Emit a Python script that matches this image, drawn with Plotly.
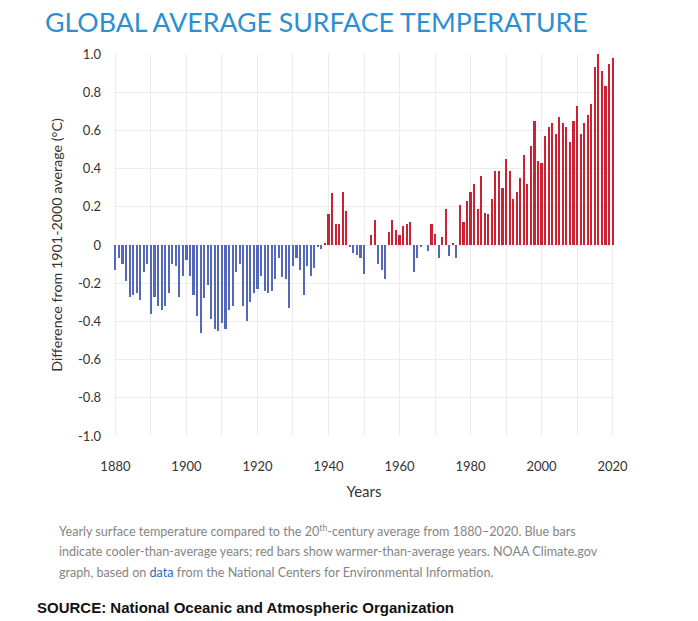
"""Global average surface temperature anomaly bar chart."""

import plotly.graph_objects as go

# Yearly anomalies vs the 1901-2000 average (deg C)
years = list(range(1880, 2021))
anomalies = [
    -0.13, -0.07, -0.10, -0.19, -0.27, -0.26, -0.25, -0.29, -0.14, -0.10,  # 1880s
    -0.36, -0.27, -0.32, -0.34, -0.32, -0.25, -0.10, -0.11, -0.27, -0.16,  # 1890s
    -0.08, -0.16, -0.26, -0.37, -0.46, -0.28, -0.21, -0.39, -0.44, -0.45,  # 1900s
    -0.41, -0.44, -0.34, -0.32, -0.14, -0.10, -0.32, -0.40, -0.30, -0.25,  # 1910s
    -0.23, -0.16, -0.24, -0.25, -0.24, -0.18, -0.07, -0.17, -0.18, -0.33,  # 1920s
    -0.11, -0.07, -0.13, -0.26, -0.11, -0.16, -0.12, -0.01, -0.02, 0.01,   # 1930s
    0.16, 0.27, 0.11, 0.11, 0.28, 0.18, -0.01, -0.04, -0.05, -0.07,        # 1940s
    -0.15, 0.00, 0.05, 0.13, -0.10, -0.13, -0.18, 0.07, 0.13, 0.08,        # 1950s
    0.05, 0.10, 0.11, 0.12, -0.14, -0.07, -0.01, 0.00, -0.03, 0.11,        # 1960s
    0.06, -0.07, 0.04, 0.19, -0.06, 0.01, -0.07, 0.21, 0.12, 0.23,         # 1970s
    0.28, 0.32, 0.19, 0.36, 0.17, 0.16, 0.24, 0.39, 0.39, 0.30,            # 1980s
    0.45, 0.39, 0.24, 0.28, 0.35, 0.47, 0.32, 0.52, 0.65, 0.44,            # 1990s
    0.43, 0.57, 0.62, 0.64, 0.58, 0.67, 0.64, 0.62, 0.54, 0.65,            # 2000s
    0.73, 0.58, 0.64, 0.68, 0.74, 0.93, 1.00, 0.91, 0.83, 0.95,            # 2010s
    0.98,                                                                  # 2020
]

y_tickvals = [1.0, 0.8, 0.6, 0.4, 0.2, 0, -0.2, -0.4, -0.6, -0.8, -1.0]
y_ticktext = ["1.0", "0.8", "0.6", "0.4", "0.2", "0", "-0.2", "-0.4", "-0.6", "-0.8", "-1.0"]
x_tickvals = [1880, 1900, 1920, 1940, 1960, 1980, 2000, 2020]

caption_lines = [
    "Yearly surface temperature compared to the 20<sup>th</sup>-century average "
    "from 1880–2020. Blue bars",
    "indicate cooler-than-average years; red bars show warmer-than-average years. "
    "NOAA Climate.gov",
    "graph, based on <span style='color:#1a6fbf'>data</span> from the National "
    "Centers for Environmental Information.",
]

# Blue for cooler-than-average years, red for warmer ones
bar_colors = ["#cc2233" if v > 0 else "#5468b9" for v in anomalies]

fig = go.Figure()
fig.add_trace(
    go.Bar(
        x=years,
        y=anomalies,
        width=0.6,
        marker_color=bar_colors,
        marker_line_width=0,
        hovertemplate="%{x}: %{y:.2f} °C<extra></extra>",
    )
)

font_main = "Lato, 'Open Sans', sans-serif"

# The page adds an 8px body margin, so the figure is 8px smaller and shifted
fig.update_layout(
    width=690,
    height=613,
    margin=dict(l=106, r=84, t=46, b=185),
    paper_bgcolor="white",
    plot_bgcolor="white",
    showlegend=False,
    bargap=0,
    font=dict(family=font_main, size=13, color="#333333"),
)

fig.update_xaxes(
    range=[1879.6, 2020.4],
    tickvals=x_tickvals,
    tickfont=dict(size=13, color="#333333"),
    showgrid=True,
    gridcolor="#ececec",
    minor=dict(dtick=10, tick0=1880, showgrid=True, gridcolor="#ececec"),
    zeroline=False,
    showline=False,
    ticks="",
    ticklabelstandoff=21,
    title=dict(text="Years", font=dict(size=15, color="#333333"), standoff=13),
)

fig.update_yaxes(
    range=[-1.0, 1.0],
    tickvals=y_tickvals,
    ticktext=y_ticktext,
    tickfont=dict(size=13, color="#333333"),
    showgrid=True,
    gridcolor="#ececec",
    zeroline=False,
    showline=False,
    ticks="",
    ticklabelstandoff=12,
    title=dict(
        text="Difference from 1901-2000 average (°C)",
        font=dict(size=14.3, color="#333333"),
        standoff=12,
    ),
)

# Plot area spans 114..614 px across and 54..436 px down on the screen
def px_x(px):
    return (px - 114) / 500


def px_y(py):
    return (436 - py) / 382


# Title
fig.add_annotation(
    text="GLOBAL AVERAGE SURFACE TEMPERATURE",
    xref="paper", yref="paper",
    x=px_x(43), y=px_y(22),
    xanchor="left", yanchor="middle",
    showarrow=False,
    font=dict(family=font_main, size=26.7, color="#2b8fd4"),
)

# Caption under the chart, one annotation per line for the wider spacing
for i, line in enumerate(caption_lines):
    fig.add_annotation(
        text=line,
        xref="paper", yref="paper",
        x=px_x(57), y=px_y(530 + 21 * i),
        xanchor="left", yanchor="middle",
        align="left",
        showarrow=False,
        font=dict(family=font_main, size=12.6, color="#858585"),
    )

# Source line
fig.add_annotation(
    text="<b>SOURCE: National Oceanic and Atmospheric Organization</b>",
    xref="paper", yref="paper",
    x=px_x(35), y=px_y(607),
    xanchor="left", yanchor="middle",
    showarrow=False,
    font=dict(family="'Liberation Sans', Arial, sans-serif", size=15, color="#111111"),
)

fig.write_html("out.html")
